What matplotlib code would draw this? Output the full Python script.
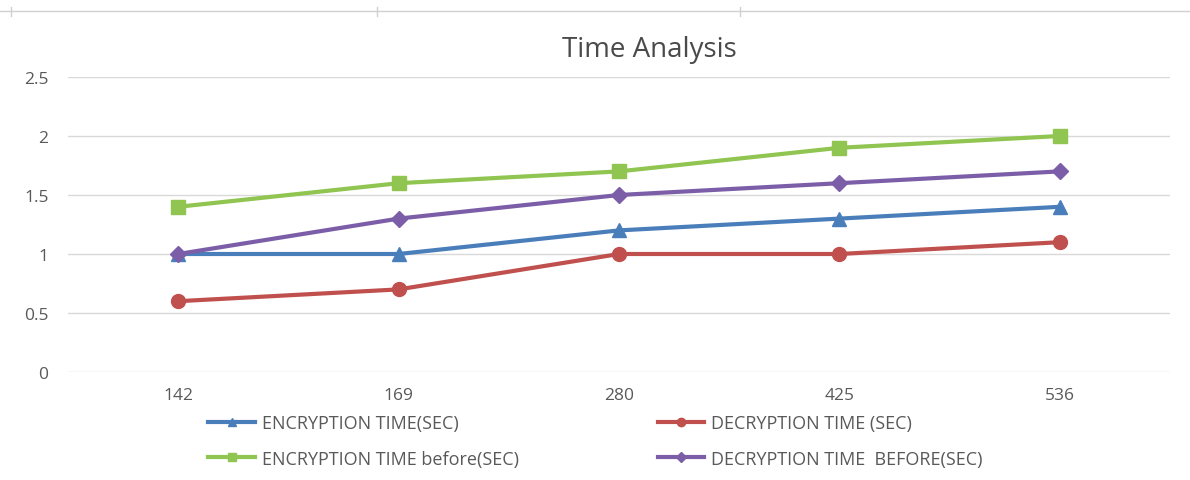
import matplotlib.pyplot as plt
from matplotlib.lines import Line2D

categories = ['142', '169', '280', '425', '536']
enc = [1.0, 1.0, 1.2, 1.3, 1.4]
dec = [0.6, 0.7, 1.0, 1.0, 1.1]
enc_before = [1.4, 1.6, 1.7, 1.9, 2.0]
dec_before = [1.0, 1.3, 1.5, 1.6, 1.7]
yticks = [0, 0.5, 1, 1.5, 2, 2.5]
ytick_labels = ['0', '0.5', '1', '1.5', '2', '2.5']

plt.rcParams['font.family'] = ['Open Sans', 'DejaVu Sans']

fig = plt.figure(figsize=(11.9, 4.81), dpi=100)
ax = fig.add_axes([68 / 1190, 1 - 373 / 481, 1102 / 1190, 295 / 481])

x = range(len(categories))
l_enc, = ax.plot(x, enc, color='#4a7ebb', lw=3, marker='^', ms=10, label='ENCRYPTION TIME(SEC)')
l_dec, = ax.plot(x, dec, color='#c0504d', lw=3, marker='o', ms=10, label='DECRYPTION TIME (SEC)')
l_encb, = ax.plot(x, enc_before, color='#8fc550', lw=3, marker='s', ms=10, label='ENCRYPTION TIME before(SEC)')
l_decb, = ax.plot(x, dec_before, color='#7b5ea7', lw=3, marker='D', ms=8, label='DECRYPTION TIME  BEFORE(SEC)')

ax.set_xlim(-0.5, len(categories) - 0.5)
ax.set_ylim(0, 2.5)
ax.set_yticks(yticks)
ax.set_yticklabels(ytick_labels)
ax.set_xticks(list(x))
ax.set_xticklabels(categories)
ax.grid(axis='y', color='#d9d9d9', lw=1)
ax.set_axisbelow(True)
for s in ax.spines.values():
    s.set_visible(False)
ax.tick_params(length=0, colors='#595959', labelsize=12.5)
ax.tick_params(axis='y', pad=14)
ax.tick_params(axis='x', pad=11)

fig.text(649 / 1190, 1 - 50 / 481, 'Time Analysis', ha='center', va='center',
         fontsize=20, color='#4a4a4a')

# faint line along the top edge
fig.add_artist(Line2D([0, 1], [1 - 12 / 481, 1 - 12 / 481], color='#d0d0d0', lw=1))
for px in [11, 377, 740]:
    fig.add_artist(Line2D([px / 1190, px / 1190], [1 - 8 / 481, 1 - 17 / 481], color='#d0d0d0', lw=1))

fig.legend(handles=[l_enc, l_encb, l_dec, l_decb], ncol=2, loc='center left',
           bbox_to_anchor=(192 / 1190, 1 - 442 / 481), frameon=False,
           fontsize=13, labelcolor='#595959', handlelength=2.6, handletextpad=0.35,
           columnspacing=7.7, labelspacing=0.95, markerscale=0.6)

fig.savefig('out.png', dpi=100)
